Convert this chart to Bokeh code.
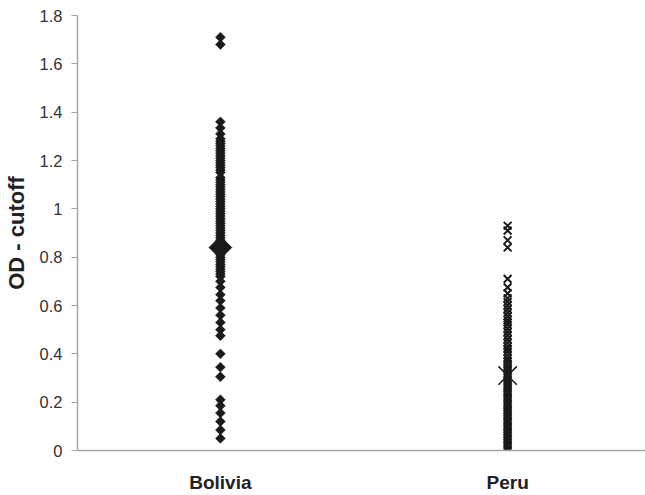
import math
from bokeh.plotting import figure
from bokeh.models import Range1d, FixedTicker
from bokeh.embed import file_html
from bokeh.resources import INLINE

categories = ["Bolivia", "Peru"]
category_x = [1, 3]
y_ticks = [0, 0.2, 0.4, 0.6, 0.8, 1.0, 1.2, 1.4, 1.6, 1.8]
y_tick_labels = ["0", "0.2", "0.4", "0.6", "0.8", "1", "1.2", "1.4", "1.6", "1.8"]

bolivia_values = [
    1.71, 1.68,
    1.36, 1.335, 1.31,
    1.29, 1.28, 1.27, 1.26, 1.25, 1.24, 1.23, 1.22, 1.21, 1.20, 1.19, 1.18, 1.17, 1.16, 1.15,
    1.13, 1.12, 1.11, 1.10, 1.09, 1.08, 1.07, 1.06, 1.05, 1.04, 1.03, 1.02, 1.01, 1.00,
    0.99, 0.98, 0.97, 0.96, 0.95, 0.94, 0.93, 0.92, 0.91, 0.90, 0.89, 0.88, 0.87, 0.86,
    0.85, 0.84, 0.83, 0.82, 0.81, 0.80, 0.79, 0.78, 0.77, 0.76, 0.75, 0.74, 0.73, 0.72,
    0.70, 0.675, 0.645, 0.62, 0.59, 0.56, 0.53, 0.50, 0.475,
    0.40, 0.345, 0.305,
    0.21, 0.185, 0.155, 0.12, 0.085, 0.05,
]
peru_values = [
    0.93, 0.91, 0.87, 0.84,
    0.71, 0.675, 0.65, 0.63, 0.615, 0.60, 0.585, 0.57, 0.555, 0.54, 0.53, 0.52, 0.505,
    0.49, 0.475, 0.46, 0.445, 0.43, 0.42, 0.41, 0.395, 0.38, 0.37, 0.36, 0.35, 0.34,
    0.33, 0.32, 0.31, 0.30, 0.29, 0.28, 0.27, 0.26, 0.25, 0.24, 0.23, 0.22, 0.21, 0.20,
    0.19, 0.18, 0.17, 0.16, 0.15, 0.14, 0.13, 0.12, 0.11, 0.10, 0.09, 0.08, 0.07, 0.06,
    0.05, 0.04, 0.03, 0.02, 0.01, 0.0,
]
bolivia_mean = 0.84
peru_mean = 0.31

FONT = "Liberation Sans"
INK = "#1a1a1a"

p = figure(width=645, height=495, output_backend="svg", toolbar_location=None,
           x_range=Range1d(0.005, 3.96), y_range=Range1d(0, 1.8),
           min_border_left=77, min_border_right=0, min_border_top=15, min_border_bottom=42)
p.background_fill_color = "white"
p.border_fill_color = "white"
p.outline_line_color = None
p.xgrid.visible = False
p.ygrid.visible = False

p.scatter([category_x[0]] * len(bolivia_values), bolivia_values, marker="square",
          angle=math.pi / 4, size=7, fill_color=INK, line_color=INK, line_width=0.5)
p.scatter([category_x[0]], [bolivia_mean], marker="square", angle=math.pi / 4,
          size=16, fill_color=INK, line_color=INK)
p.scatter([category_x[1]] * len(peru_values), peru_values, marker="x",
          size=11, line_color=INK, line_width=2)
p.scatter([category_x[1]], [peru_mean], marker="x", size=26, line_color=INK, line_width=1.5)

xa = p.xaxis[0]
xa.ticker = FixedTicker(ticks=category_x)
xa.major_label_overrides = {category_x[i]: categories[i] for i in range(len(categories))}
xa.major_tick_line_color = None
xa.major_tick_out = 0
xa.major_tick_in = 0
xa.minor_tick_line_color = None
xa.axis_line_color = "#a6a6a6"
xa.axis_line_width = 1.5
xa.major_label_text_font = FONT
xa.major_label_text_font_style = "bold"
xa.major_label_text_font_size = "19px"
xa.major_label_text_color = "#222222"
xa.major_label_standoff = 21

ya = p.yaxis[0]
ya.ticker = FixedTicker(ticks=y_ticks)
ya.major_label_overrides = {y_ticks[i]: y_tick_labels[i] for i in range(len(y_ticks))}
ya.axis_line_color = "#a6a6a6"
ya.axis_line_width = 1.5
ya.major_tick_line_color = "#a6a6a6"
ya.major_tick_out = 6
ya.major_tick_in = 0
ya.minor_tick_line_color = None
ya.major_label_text_font = FONT
ya.major_label_text_font_size = "16.5px"
ya.major_label_text_color = "#333333"
ya.major_label_standoff = 9
ya.axis_label = "OD - cutoff"
ya.axis_label_text_font = FONT
ya.axis_label_text_font_style = "bold"
ya.axis_label_text_font_size = "22px"
ya.axis_label_text_color = "#222222"
ya.axis_label_standoff = 8

open("out.html", "w").write(file_html(p, INLINE))
